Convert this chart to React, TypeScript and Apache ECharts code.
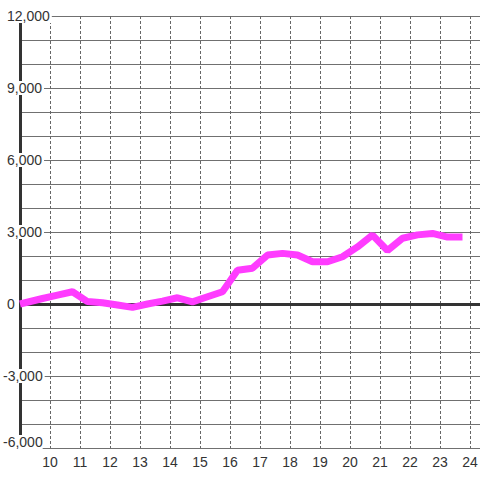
import React, { useEffect, useRef } from "react";
import * as echarts from "echarts";

const hours = [9, 9.75, 10.25, 10.75, 11.25, 11.75, 12.25, 12.75, 13.25, 13.75, 14.25, 14.75, 15.25, 15.75, 16.25, 16.75, 17.25, 17.75, 18.25, 18.75, 19.25, 19.75, 20.25, 20.75, 21.25, 21.75, 22.25, 22.75, 23.25, 23.75];
const values = [0, 230, 370, 510, 100, 50, -40, -140, 0, 120, 260, 90, 300, 510, 1410, 1490, 2040, 2110, 2040, 1760, 1760, 1970, 2380, 2870, 2230, 2740, 2880, 2940, 2790, 2790];
const yMin = -6000;
const yMax = 12000;
const yStep = 3000;
const xMin = 9;
const xMax = 24.5;

const FONT = "'Liberation Sans', Arial, sans-serif";

export default function App() {
  const ref = useRef<HTMLDivElement>(null);
  useEffect(() => {
    if (!ref.current) return;
    const chart = echarts.init(ref.current, null, { renderer: "svg" });
    chart.setOption({
      animation: false,
      backgroundColor: "#ffffff",
      textStyle: { fontFamily: FONT },
      grid: { left: 20, top: 16, height: 432, width: 465, containLabel: false, outerBoundsMode: "none" },
      xAxis: {
        type: "value",
        min: xMin,
        max: xMax,
        interval: 1,
        axisLine: { show: false },
        axisTick: { show: false },
        axisLabel: {
          color: "#333",
          fontSize: 14,
          fontFamily: FONT,
          margin: 7,
          formatter: (v: number) => (Number.isInteger(v) && v > xMin ? String(v) : ""),
        },
        splitLine: { show: true, lineStyle: { color: "#666", width: 1, type: [3, 2] } },
      },
      yAxis: {
        type: "value",
        min: yMin,
        max: yMax,
        interval: yStep,
        axisLine: { show: true, onZero: false, lineStyle: { color: "#333", width: 3 } },
        axisTick: { show: false },
        minorTick: { show: false, splitNumber: 3 },
        minorSplitLine: { show: true, lineStyle: { color: "#707070", width: 1 } },
        splitLine: { show: true, lineStyle: { color: "#707070", width: 1 } },
        axisLabel: {
          color: "#333",
          fontSize: 14,
          fontFamily: FONT,
          align: "left",
          margin: 17,
          formatter: (v: number) => {
            const s = v.toLocaleString("en-US");
            if (v === yMin) return `{b|${s}}`;
            if (v < 0) return `{n|${s}}`;
            return `{p|${s}}`;
          },
          rich: {
            p: { backgroundColor: "#fff", padding: [0, 2, 0, 4], lineHeight: 16, fontSize: 14, color: "#333", fontFamily: FONT },
            n: { backgroundColor: "#fff", padding: [0, 2, 0, 0], lineHeight: 16, fontSize: 14, color: "#333", fontFamily: FONT },
            b: { backgroundColor: "#fff", padding: [0, 0, 12, 0], lineHeight: 16, fontSize: 14, color: "#333", fontFamily: FONT },
          },
        },
      },
      series: [
        {
          type: "line",
          z: 1,
          data: [[hours[0], 0]],
          symbol: "none",
          lineStyle: { opacity: 0 },
          silent: true,
          markLine: {
            z: 1,
            silent: true,
            symbol: ["none", "none"],
            label: { show: false },
            lineStyle: { color: "#333", width: 3, type: "solid" },
            data: [{ yAxis: 0 }],
          },
        },
        {
          type: "line",
          z: 3,
          data: hours.map((h, i) => [h, values[i]]),
          symbol: "none",
          lineStyle: { color: "#ff3cff", width: 7 },
        },
      ],
    });
    return () => chart.dispose();
  }, []);
  return <div ref={ref} style={{ position: "absolute", left: 0, top: 0, width: 480, height: 480 }} />;
}
